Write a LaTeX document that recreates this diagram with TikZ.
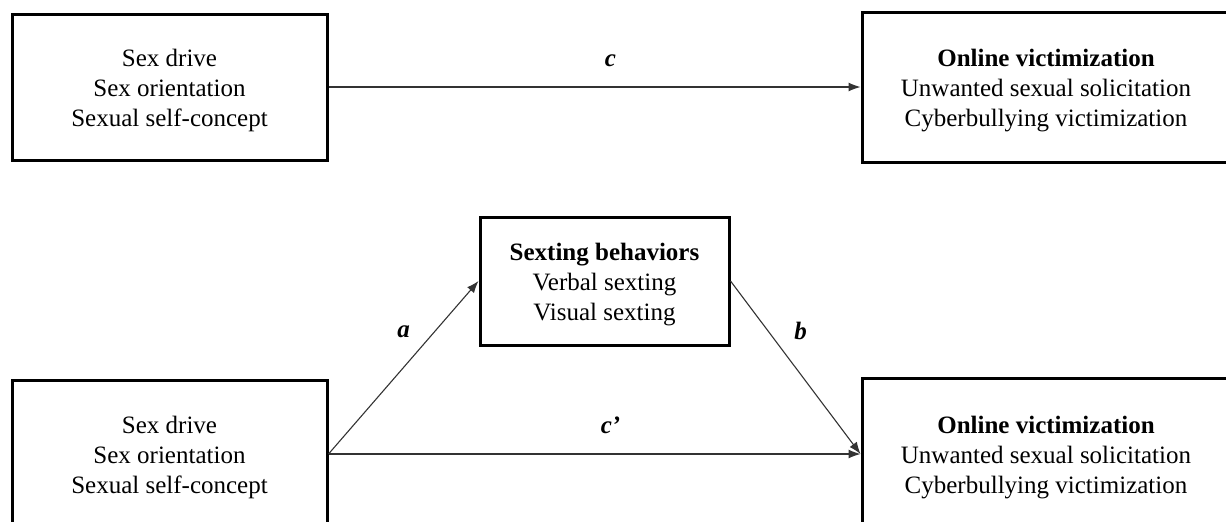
\documentclass[tikz,border=0pt]{standalone}
\usepackage{fontspec}
\setmainfont{Liberation Serif}
\usepackage{tikz}
\usetikzlibrary{arrows.meta, positioning}
\newcommand{\lift}{\rule{0pt}{12.6pt}}

\begin{document}
\begin{tikzpicture}[
  x=0.5pt, y=-0.5pt,
  font=\fontsize{12.5}{15}\selectfont,
  varbox/.style={draw, line width=1.5pt, align=center, inner sep=0pt},
  a/.style={-{Latex[length=6pt, width=4.5pt]}, line width=0.55pt, draw=black!80},
  lab/.style={font=\fontsize{12.5}{15}\selectfont\bfseries\itshape}
]
\clip (0,0) rectangle (1226,521);
\useasboundingbox (0,0) rectangle (1226,521);

% total effect
\node[varbox, minimum width=157.5pt, minimum height=73pt] (topleft) at (169.5,87)
  {\lift Sex drive\\Sex orientation\\Sexual self-concept};
\node[varbox, minimum width=184pt, minimum height=75pt] (topright) at (1046,87)
  {\lift\textbf{Online victimization}\\Unwanted sexual solicitation\\Cyberbullying victimization};
\draw[a] (topleft) -- (topright) node[lab, pos=0.53, yshift=13pt] {c};

% mediation model
\node[varbox, minimum width=124.5pt, minimum height=64pt] (mediator) at (604.5,281)
  {\lift\textbf{Sexting behaviors}\\Verbal sexting\\Visual sexting};
\node[varbox, minimum width=157.5pt, minimum height=74pt] (lowleft) at (169.5,454)
  {\lift Sex drive\\Sex orientation\\Sexual self-concept};
\node[varbox, minimum width=184pt, minimum height=76pt] (lowright) at (1046,454)
  {\lift\textbf{Online victimization}\\Unwanted sexual solicitation\\Cyberbullying victimization};

\draw[a] (lowleft.east) -- (mediator.west) node[lab, midway, yshift=18pt] {a};
\draw[a] (mediator.east) -- (lowright.west) node[lab, midway, xshift=2.5pt, yshift=18.5pt] {b};
\draw[a] (lowleft.east) -- (lowright.west) node[lab, pos=0.53, yshift=14.5pt] {c’};
\end{tikzpicture}
\end{document}
